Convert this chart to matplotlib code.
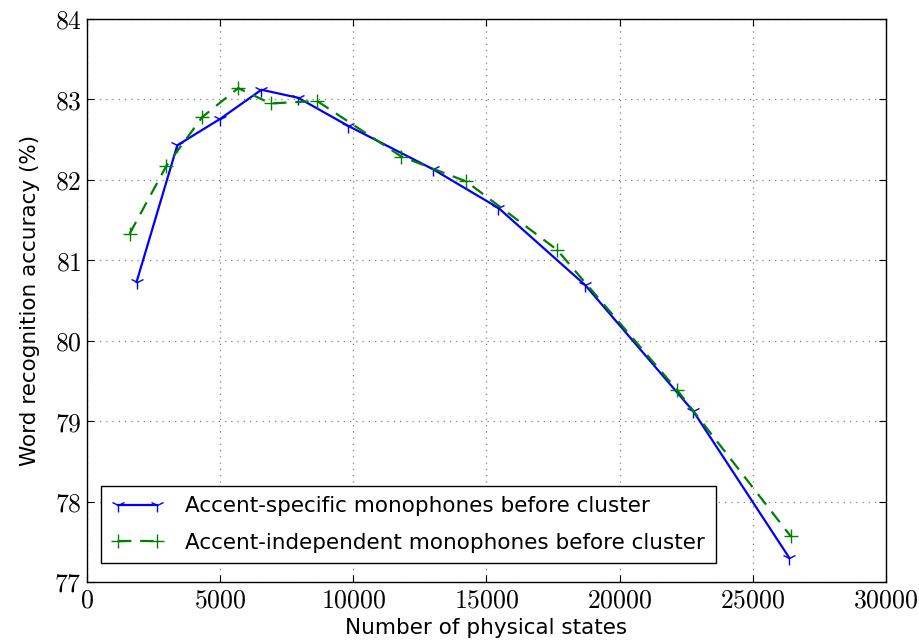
import matplotlib.pyplot as plt
from matplotlib.ticker import FuncFormatter

plt.rcParams['mathtext.fontset'] = 'cm'
plt.rcParams['font.family'] = 'DejaVu Sans'

# accent-specific monophones
spec_states = [1860, 3390, 5010, 6550, 7930, 9810, 13000, 15450, 18710, 22770, 26370]
spec_acc = [80.73, 82.43, 82.76, 83.12, 83.02, 82.67, 82.13, 81.65, 80.69, 79.12, 77.30]

# accent-independent monophones
indep_states = [1600, 2975, 4325, 5675, 6890, 8640, 11800, 14240, 17650, 22150, 26420]
indep_acc = [81.33, 82.17, 82.78, 83.14, 82.95, 82.98, 82.29, 81.98, 81.13, 79.39, 77.57]

fig = plt.figure(figsize=(9.2, 6.43), dpi=100)
ax = fig.add_axes([0.0946, 0.0949, 0.8684, 0.8756])

ax.plot(spec_states, spec_acc, color='#0000ff', lw=1.6, marker='1',
        markersize=10, markeredgewidth=1.0,
        label='Accent-specific monophones before cluster')
ax.plot(indep_states, indep_acc, color='#008000', lw=1.6, ls=(0, (6, 4)),
        marker='+', markersize=10, markeredgewidth=1.0,
        label='Accent-independent monophones before cluster')

ax.set_xlim(0, 30000)
ax.set_ylim(77, 84)
ax.set_xticks(range(0, 30001, 5000))
ax.set_yticks(range(77, 85))
fmt = FuncFormatter(lambda v, p: r'$%d$' % v)
ax.xaxis.set_major_formatter(fmt)
ax.yaxis.set_major_formatter(fmt)
ax.tick_params(direction='in', top=True, right=True, length=5, labelsize=18.5, pad=4)

ax.grid(True, ls=(0, (1, 4)), color='#808080', lw=0.9)
for s in ax.spines.values():
    s.set_linewidth(1.0)

ax.set_xlabel('Number of physical states', fontsize=15.5, labelpad=3)
ax.set_ylabel('Word recognition accuracy (%)', fontsize=15.5, labelpad=10)

leg = ax.legend(loc='lower left', fontsize=15.5, numpoints=2, fancybox=False,
                edgecolor='black', framealpha=1, borderpad=0.5,
                labelspacing=0.75, handlelength=2.4, handletextpad=1.0,
                bbox_to_anchor=(0.004, 0.014))
leg.get_frame().set_linewidth(1.0)

fig.savefig('out.png', dpi=100)
